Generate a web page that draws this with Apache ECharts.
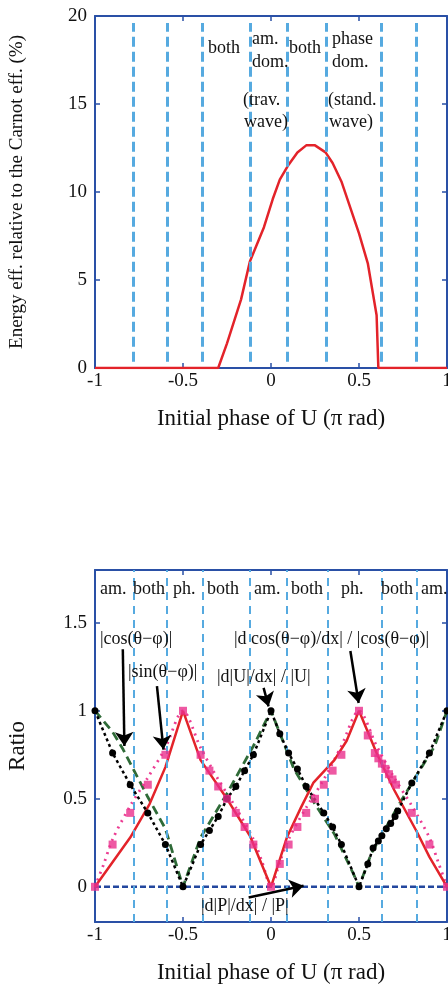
<!DOCTYPE html>
<html>
<head>
<meta charset="utf-8">
<script src="https://cdn.jsdelivr.net/npm/echarts@6/dist/echarts.min.js"></script>
<style>
  html, body { margin: 0; padding: 0; background: #fff; }
  #chart { width: 448px; height: 985px; }
</style>
</head>
<body>
<div id="chart"></div>
<script>
// top panel: efficiency vs initial phase
const effX = [-1, -0.3, -0.25, -0.17, -0.12, -0.04, 0.01, 0.05, 0.1, 0.15, 0.2, 0.25, 0.31, 0.35, 0.4, 0.5, 0.55, 0.6, 0.61, 1]
const effY = [0, 0, 1.4, 3.9, 6.05, 8.0, 9.6, 10.7, 11.55, 12.25, 12.65, 12.65, 12.25, 11.65, 10.6, 7.65, 5.95, 3.0, 0, 0]

// regime boundaries (both panels)
const phaseLines = [-0.784, -0.591, -0.392, -0.119, 0.091, 0.316, 0.625, 0.828]

// bottom panel series
const cosX = [-1, -0.9, -0.84, -0.7, -0.6, -0.5, -0.4, -0.25, -0.1, 0, 0.13, 0.25, 0.36, 0.47, 0.5, 0.57, 0.74, 0.93, 1]
const cosY = [1, 0.88, 0.78, 0.51, 0.33, 0, 0.28, 0.53, 0.8, 1, 0.67, 0.47, 0.3, 0.07, 0, 0.19, 0.49, 0.8, 1]

const sinX = [-1, -0.95, -0.9, -0.8, -0.7, -0.6, -0.5, -0.4, -0.3, -0.2, -0.1, -0.05, 0, 0.05, 0.1, 0.2, 0.3, 0.4, 0.5, 0.6, 0.7, 0.8, 0.9, 0.95, 1]
const sinY = [0, 0.13, 0.27, 0.46, 0.62, 0.79, 1, 0.79, 0.61, 0.45, 0.27, 0.14, 0, 0.14, 0.27, 0.45, 0.61, 0.8, 1, 0.8, 0.62, 0.46, 0.28, 0.14, 0]

const redX = [-1, -0.8, -0.69, -0.6, -0.5, -0.4, -0.25, -0.12, 0, 0.09, 0.17, 0.24, 0.36, 0.43, 0.5, 0.6, 0.7, 0.83, 0.9, 1]
const redY = [0, 0.28, 0.47, 0.68, 1, 0.72, 0.5, 0.29, 0, 0.28, 0.45, 0.59, 0.72, 0.83, 1, 0.76, 0.55, 0.31, 0.17, 0]

const dUX = [-1, -0.9, -0.8, -0.7, -0.6, -0.5, -0.4, -0.35, -0.3, -0.25, -0.2, -0.15, -0.1, 0, 0.05, 0.1, 0.15, 0.2, 0.3, 0.35, 0.4, 0.5, 0.55, 0.58, 0.61, 0.63, 0.655, 0.68, 0.705, 0.72, 0.8, 0.9, 1]
const dUY = [1, 0.76, 0.58, 0.42, 0.24, 0, 0.24, 0.32, 0.4, 0.5, 0.57, 0.66, 0.75, 1, 0.87, 0.76, 0.67, 0.57, 0.42, 0.34, 0.24, 0, 0.13, 0.22, 0.26, 0.29, 0.33, 0.36, 0.4, 0.43, 0.59, 0.76, 1]

const dcX = [-1, -0.9, -0.8, -0.7, -0.6, -0.5, -0.4, -0.35, -0.3, -0.25, -0.2, -0.15, -0.1, 0, 0.05, 0.1, 0.15, 0.2, 0.25, 0.3, 0.35, 0.4, 0.5, 0.55, 0.59, 0.61, 0.63, 0.65, 0.67, 0.69, 0.71, 0.8, 0.9, 1]
const dcY = [0, 0.24, 0.42, 0.58, 0.75, 1, 0.75, 0.66, 0.57, 0.5, 0.42, 0.34, 0.24, 0, 0.13, 0.24, 0.34, 0.42, 0.5, 0.58, 0.66, 0.75, 1, 0.86, 0.76, 0.73, 0.7, 0.67, 0.64, 0.61, 0.58, 0.42, 0.24, 0]

const dPX = [-1, 1]
const dPY = [0, 0]

// annotation arrows (data coords of bottom panel)
const arrowFrom = [[-0.842, 1.35], [-0.648, 1.14], [-0.042, 1.13], [0.451, 1.34], [-0.127, -0.061]]
const arrowTo = [[-0.833, 0.80], [-0.611, 0.78], [-0.014, 1.025], [0.498, 1.044], [0.185, 0.006]]

const zip = (xs, ys) => xs.map((x, i) => [x, ys[i]])

const font = '"Liberation Serif", "Times New Roman", serif'
const axisBlue = '#2a50a6'
const lightBlue = '#56aae0'

const chart = echarts.init(document.getElementById('chart'))

const lineCfg = { onZero: false, lineStyle: { color: axisBlue, width: 2 } }
const tickCfg = { inside: true, length: 5, lineStyle: { color: axisBlue, width: 1.5 } }

const baseX = (grid) => ({
  gridIndex: grid,
  type: 'value',
  min: -1,
  max: 1,
  interval: 0.5,
  splitLine: { show: false },
  axisLine: lineCfg,
  axisTick: tickCfg,
  axisLabel: { color: '#111', fontFamily: font, fontSize: 19, margin: 4 },
  name: 'Initial phase of U (π rad)',
  nameLocation: 'middle',
  nameGap: 39,
  nameTextStyle: { color: '#111', fontFamily: font, fontSize: 23 }
})

const topX = (grid) => ({
  gridIndex: grid,
  type: 'value',
  position: 'top',
  min: -1,
  max: 1,
  interval: 0.5,
  splitLine: { show: false },
  axisLine: lineCfg,
  axisTick: tickCfg,
  axisLabel: { show: false }
})

const ratioTicks = [0, 0.5, 1, 1.5]

const labels = [
  // top panel
  ['both', 208, 48], ['am.', 252, 39], ['dom.', 252, 62], ['both', 289, 48],
  ['phase', 332, 39], ['dom.', 332, 62],
  ['(trav.', 243, 100], ['wave)', 244, 122], ['(stand.', 328, 100], ['wave)', 329, 122],
  // bottom panel
  ['am.', 100, 589], ['both', 133, 589], ['ph.', 173, 589], ['both', 207, 589],
  ['am.', 254, 589], ['both', 291, 589], ['ph.', 341, 589], ['both', 381, 589], ['am.', 421, 589],
  ['|cos(θ−φ)|', 100, 639], ['|sin(θ−φ)|', 128, 672], ['|d|U|/dx| / |U|', 217, 677],
  ['|d cos(θ−φ)/dx| / |cos(θ−φ)|', 234, 639], ['|d|P|/dx| / |P|', 201, 906]
]

chart.setOption({
  animation: false,
  backgroundColor: '#fff',
  grid: [
    { left: 95, top: 16, width: 352, height: 352, containLabel: false, outerBoundsMode: 'none' },
    { left: 95, top: 570, width: 352, height: 352, containLabel: false, outerBoundsMode: 'none' }
  ],
  xAxis: [baseX(0), topX(0), baseX(1), topX(1)],
  yAxis: [
    {
      gridIndex: 0, type: 'value', min: 0, max: 20, interval: 5,
      splitLine: { show: false },
      axisLine: lineCfg,
      axisTick: tickCfg,
      axisLabel: { color: '#111', fontFamily: font, fontSize: 19, margin: 8 },
      name: 'Energy eff. relative to the Carnot eff. (%)',
      nameLocation: 'middle',
      nameGap: 68,
      nameTextStyle: { color: '#111', fontFamily: font, fontSize: 19 }
    },
    {
      gridIndex: 0, type: 'value', position: 'right', min: 0, max: 20, interval: 5,
      splitLine: { show: false },
      axisLine: lineCfg,
      axisTick: tickCfg,
      axisLabel: { show: false }
    },
    {
      gridIndex: 1, type: 'value', min: -0.2, max: 1.8,
      splitLine: { show: false },
      axisLine: lineCfg,
      axisTick: { inside: true, length: 5, customValues: ratioTicks, lineStyle: { color: axisBlue, width: 1.5 } },
      axisLabel: { color: '#111', fontFamily: font, fontSize: 19, margin: 8, customValues: ratioTicks },
      name: 'Ratio',
      nameLocation: 'middle',
      nameGap: 66,
      nameTextStyle: { color: '#111', fontFamily: font, fontSize: 23 }
    },
    {
      gridIndex: 1, type: 'value', position: 'right', min: -0.2, max: 1.8,
      splitLine: { show: false },
      axisLine: lineCfg,
      axisTick: { inside: true, length: 5, customValues: ratioTicks, lineStyle: { color: axisBlue, width: 1.5 } },
      axisLabel: { show: false }
    }
  ],
  series: [
    {
      name: 'efficiency',
      type: 'line',
      xAxisIndex: 0, yAxisIndex: 0,
      data: zip(effX, effY),
      symbol: 'none',
      lineStyle: { color: '#e3232a', width: 2.5 },
      markLine: {
        silent: true,
        symbol: 'none',
        label: { show: false },
        lineStyle: { color: lightBlue, width: 3, type: [10, 5] },
        data: phaseLines.map(v => [{ coord: [v, 0.35] }, { coord: [v, 19.6] }])
      },
      z: 3
    },
    {
      name: '|d|P|/dx| / |P|',
      type: 'line',
      xAxisIndex: 2, yAxisIndex: 2,
      data: zip(dPX, dPY),
      symbol: 'none',
      lineStyle: { color: '#23479e', width: 2.5, type: [6, 3] },
      markLine: {
        silent: true,
        symbol: 'none',
        label: { show: false },
        lineStyle: { color: lightBlue, width: 2, type: [8, 6] },
        data: phaseLines.map(v => ({ xAxis: v }))
      },
      z: 2
    },
    {
      name: '|cos(θ−φ)|',
      type: 'line',
      xAxisIndex: 2, yAxisIndex: 2,
      data: zip(cosX, cosY),
      symbol: 'none',
      lineStyle: { color: '#2f6b38', width: 2.8, type: [9, 5] },
      z: 3
    },
    {
      name: '|sin(θ−φ)|',
      type: 'line',
      xAxisIndex: 2, yAxisIndex: 2,
      data: zip(sinX, sinY),
      symbol: 'none',
      smooth: 0.3,
      lineStyle: { color: '#ec3d93', width: 2.8, type: [2, 5] },
      z: 3
    },
    {
      name: 'red',
      type: 'line',
      xAxisIndex: 2, yAxisIndex: 2,
      data: zip(redX, redY),
      symbol: 'none',
      lineStyle: { color: '#e3232a', width: 2.5 },
      z: 4
    },
    {
      name: '|d|U|/dx| / |U|',
      type: 'line',
      xAxisIndex: 2, yAxisIndex: 2,
      data: zip(dUX, dUY),
      symbol: 'circle',
      symbolSize: 7,
      itemStyle: { color: '#000' },
      lineStyle: { color: '#000', width: 2.5, type: [3, 3] },
      z: 5
    },
    {
      name: '|d cos(θ−φ)/dx| / |cos(θ−φ)|',
      type: 'scatter',
      xAxisIndex: 2, yAxisIndex: 2,
      data: zip(dcX, dcY),
      symbol: 'rect',
      symbolSize: 8,
      itemStyle: { color: '#ea2f8c' },
      z: 6
    },
    {
      name: 'arrows',
      type: 'line',
      xAxisIndex: 2, yAxisIndex: 2,
      data: [],
      z: 7,
      markLine: {
        silent: true,
        symbol: ['none', 'arrow'],
        symbolSize: 14,
        label: { show: false },
        itemStyle: { color: '#000' },
        lineStyle: { color: '#000', width: 2.5, type: 'solid' },
        data: arrowFrom.map((p, i) => [{ coord: p }, { coord: arrowTo[i] }])
      }
    }
  ],
  graphic: labels.map(([t, x, y]) => ({
    type: 'text',
    x: x,
    y: y,
    z: 100,
    style: {
      text: t,
      fill: '#111',
      font: '18px ' + font,
      align: 'left',
      verticalAlign: 'middle'
    }
  }))
})
</script>
</body>
</html>
